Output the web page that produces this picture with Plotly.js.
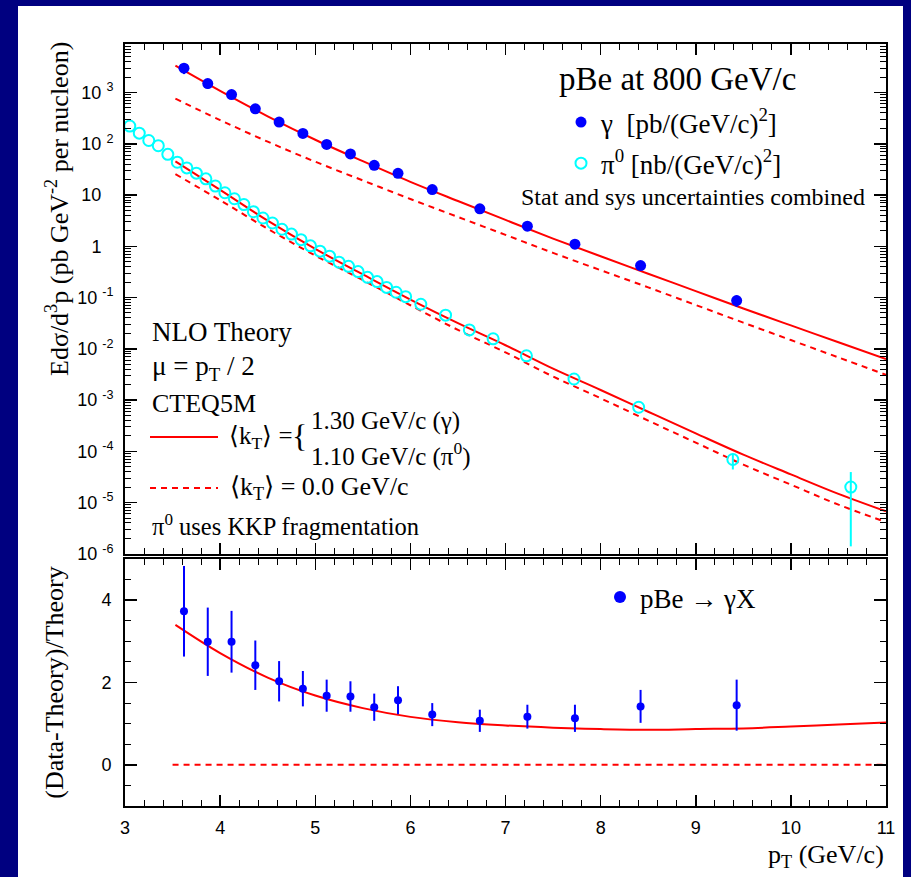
<!DOCTYPE html>
<html><head><meta charset="utf-8">
<script src="https://cdn.plot.ly/plotly-3.0.1.min.js"></script>
<style>html,body{margin:0;padding:0;background:#000080;} #chart{width:911px;height:877px;}</style>
</head><body><div id="chart"></div>
<script>
// ---------- data ----------
const gammaPt   = [3.62,3.87,4.12,4.37,4.62,4.87,5.12,5.37,5.62,5.87,6.23,6.73,7.23,7.73,8.42,9.43];
const gammaXsec = [2985,1496,914,482,266,159,97.3,63.3,38.0,26.5,12.8,5.39,2.47,1.10,0.42,0.0875];
const gammaErr  = [694,311,172,84.6,43.0,24.0,14.2,8.8,5.2,3.5,1.61,0.70,0.33,0.17,0.069,0.022];

const pi0Pt   = [3.05,3.15,3.25,3.35,3.45,3.55,3.65,3.75,3.85,3.95,4.05,4.15,4.25,4.35,4.45,4.55,4.65,4.75,4.85,4.95,
                 5.05,5.15,5.25,5.35,5.45,5.55,5.65,5.75,5.85,5.95,6.11,6.37,6.62,6.87,7.22,7.72,8.40,9.39,10.63];
const pi0Xsec = [222,161,116,91.8,62.2,43.7,33.8,26.7,20.7,15.0,11.1,8.47,6.53,4.73,3.57,2.85,2.15,1.73,1.35,1.02,
                 0.803,0.642,0.491,0.406,0.321,0.248,0.205,0.158,0.127,0.104,0.0741,0.0453,0.0234,0.0157,0.00731,0.00258,7.25e-4,6.93e-5,2.01e-5];
const pi0ErrPlus  = [0,0,0,0,0,0,0,0,0,0,0,0,0,0,0,0,0,0,0,0,0,0,0,0,0,0,0,0,0,0,0,0,0,0,0,0,0,2.04e-5,1.93e-5];
const pi0ErrMinus = [0,0,0,0,0,0,0,0,0,0,0,0,0,0,0,0,0,0,0,0,0,0,0,0,0,0,0,0,0,0,0,0,0,0,0,0,0,2.50e-5,1.87e-5];

const theoryPt   = [3.53,4.0,4.5,5.0,5.5,6.0,6.5,7.0,7.5,8.0,8.5,9.0,9.5,10.0,10.5,11.0];
const gammaNLOkT = [3350,1079,344,120,45.8,18.1,7.64,3.27,1.416,0.638,0.292,0.1337,0.0611,0.0286,0.01346,0.00631];
const gammaNLO   = [759,290,110,44.7,19.3,8.37,3.74,1.671,0.745,0.342,0.158,0.0716,0.0324,0.01483,0.00679,0.00311];
const pi0NLOkT   = [45.5,12.6,3.16,0.891,0.282,0.0912,0.0316,0.01175,0.00409,0.001574,5.92e-4,2.24e-4,8.61e-5,3.55e-5,1.48e-5,6.76e-6];
const pi0NLO     = [25.6,7.94,2.19,0.661,0.219,0.0708,0.0234,0.00851,0.00288,0.001084,3.98e-4,1.48e-4,5.50e-5,2.24e-5,9.12e-6,4.17e-6];

const ratioKT    = [3.40,2.715,2.12,1.683,1.378,1.165,1.035,0.957,0.903,0.868,0.85,0.87,0.885,0.93,0.98,1.03];
const ratioVal   = [3.73,2.99,2.99,2.42,2.03,1.85,1.68,1.66,1.40,1.57,1.22,1.07,1.17,1.13,1.42,1.45];
const ratioErr   = [1.1,0.83,0.75,0.6,0.49,0.43,0.39,0.37,0.33,0.34,0.28,0.27,0.29,0.33,0.40,0.62];
const ratioZeroPt = [3.5, 11];
const ratioZero   = [0, 0];

const topTickVals = [1e-6,1e-5,1e-4,1e-3,1e-2,1e-1,1,10,100,1000];
const topTickText = ['10\u00a0<sup>-6</sup>','10\u00a0<sup>-5</sup>','10\u00a0<sup>-4</sup>','10\u00a0<sup>-3</sup>',
                     '10\u00a0<sup>-2</sup>','10\u00a0<sup>-1</sup>','1\u00a0<sup>\u00a0\u00a0</sup>','10\u00a0<sup>\u00a0\u00a0</sup>',
                     '10\u00a0<sup>2</sup>','10\u00a0<sup>3</sup>'];
const xTickVals = [3,4,5,6,7,8,9,10,11];
const ratioTickVals = [0,2,4];

// ---------- layout helpers ----------
const L=125, R=886, T=44, B=806;
const px = v => (v-L)/(R-L);
const py = v => (B-v)/(B-T);
const RED='#ff0000', BLUE='#0000ff', CYAN='#00ffff';
const SERIF='Liberation Serif, Times New Roman, serif';
const SANS='Liberation Sans, Arial, sans-serif';
const DASH='6px,5px';

const minorLog=[];
for(let d=-6; d<=3; d++){ for(let m=2;m<=9;m++){ const v=m*Math.pow(10,d); if(v<9000) minorLog.push(v);} }

const traces = [
  {x:theoryPt, y:gammaNLOkT, xaxis:'x2', yaxis:'y', mode:'lines', line:{color:RED,width:2,shape:'spline'}, showlegend:false, hoverinfo:'skip'},
  {x:theoryPt, y:gammaNLO,   xaxis:'x2', yaxis:'y', mode:'lines', line:{color:RED,width:2,dash:DASH,shape:'spline'}, showlegend:false, hoverinfo:'skip'},
  {x:theoryPt, y:pi0NLOkT,   xaxis:'x2', yaxis:'y', mode:'lines', line:{color:RED,width:2,shape:'spline'}, showlegend:false, hoverinfo:'skip'},
  {x:theoryPt, y:pi0NLO,     xaxis:'x2', yaxis:'y', mode:'lines', line:{color:RED,width:2,dash:DASH,shape:'spline'}, showlegend:false, hoverinfo:'skip'},
  {x:gammaPt, y:gammaXsec, xaxis:'x2', yaxis:'y', mode:'markers', name:'\u03b3\u00a0 [pb/(GeV/c)<sup>2</sup>]',
   legend:'legend', legendgroup:'g',
   marker:{symbol:'circle', size:11, color:BLUE},
   error_y:{type:'data', array:gammaErr, color:BLUE, thickness:2, width:0}},
  {x:pi0Pt, y:pi0Xsec, xaxis:'x2', yaxis:'y', mode:'markers', name:'\u03c0<sup>0</sup> [nb/(GeV/c)<sup>2</sup>]',
   legend:'legend', legendgroup:'p',
   marker:{symbol:'circle-open', size:11, color:CYAN, line:{width:2, color:CYAN}},
   error_y:{type:'data', symmetric:false, array:pi0ErrPlus, arrayminus:pi0ErrMinus, color:CYAN, thickness:2, width:0}},
  {x:theoryPt, y:ratioKT, xaxis:'x', yaxis:'y2', mode:'lines', line:{color:RED,width:2,shape:'spline'}, showlegend:false, hoverinfo:'skip'},
  {x:ratioZeroPt, y:ratioZero, xaxis:'x', yaxis:'y2', mode:'lines', line:{color:RED,width:2,dash:DASH}, showlegend:false, hoverinfo:'skip'},
  {x:gammaPt, y:ratioVal, xaxis:'x', yaxis:'y2', mode:'markers', name:'pBe \u2192 \u03b3X', legend:'legend2',
   marker:{symbol:'circle', size:8, color:BLUE},
   error_y:{type:'data', array:ratioErr, color:BLUE, thickness:2, width:0}}
];

const xCommon = {range:[3,11], tickmode:'array', tickvals:xTickVals, ticks:'inside', ticklen:11, tickwidth:1.5, tickcolor:'#000',
  minor:{dtick:0.2, tick0:3, ticks:'inside', ticklen:6, tickwidth:1, tickcolor:'#000'},
  showline:true, linewidth:2, linecolor:'#000', mirror:'ticks', showgrid:false, zeroline:false,
  tickfont:{family:SANS, size:18, color:'#000'}, ticklabelstandoff:4};

const ann = (x, y, text, size, xanchor, extra) => Object.assign({xref:'paper', yref:'paper', x:px(x), y:py(y),
  xanchor:xanchor||'left', yanchor:'middle', showarrow:false, text:text, font:{family:SERIF, size:size, color:'#000'}}, extra||{});

const layout = {
  width:911, height:877, margin:{l:L, r:911-R, t:T, b:877-B},
  paper_bgcolor:'#000080', plot_bgcolor:'#ffffff',
  showlegend:true,
  xaxis: Object.assign({}, xCommon, {anchor:'y2', domain:[0,1]}),
  xaxis2: Object.assign({}, xCommon, {anchor:'y', domain:[0,1], matches:'x', showticklabels:false}),
  yaxis: {domain:[py(554),1], anchor:'x2', type:'log', range:[-6.003, 3.947], tickmode:'array', tickvals:topTickVals, ticktext:topTickText,
    ticks:'inside', ticklen:12, tickwidth:1.5, tickcolor:'#000',
    minor:{tickmode:'array', tickvals:minorLog, ticks:'inside', ticklen:6, tickwidth:1, tickcolor:'#000'},
    showline:true, linewidth:2, linecolor:'#000', mirror:'ticks', showgrid:false, zeroline:false,
    tickfont:{family:SANS, size:18, color:'#000'}, ticklabelstandoff:6},
  yaxis2: {domain:[0,py(559)], anchor:'x', range:[-1,5], tickmode:'array', tickvals:ratioTickVals,
    ticks:'inside', ticklen:12, tickwidth:1.5, tickcolor:'#000',
    minor:{tickmode:'linear', tick0:0, dtick:0.5, ticks:'inside', ticklen:6, tickwidth:1, tickcolor:'#000'},
    showline:true, linewidth:2, linecolor:'#000', mirror:'ticks', showgrid:false, zeroline:false,
    tickfont:{family:SANS, size:18, color:'#000'}, ticklabelstandoff:8,
    title:{text:'(Data-Theory)/Theory', font:{family:SERIF, size:26, color:'#000'}, standoff:30}},
  legend: {x:px(561), y:py(98), xanchor:'left', yanchor:'top', bgcolor:'rgba(0,0,0,0)', borderwidth:0,
    font:{family:SERIF, size:27, color:'#000'}, traceorder:'grouped', tracegroupgap:3},
  legend2: {x:px(600), y:py(573), xanchor:'left', yanchor:'top', bgcolor:'rgba(0,0,0,0)', borderwidth:0,
    itemsizing:'constant', font:{family:SERIF, size:27, color:'#000'}},
  shapes: [
    {type:'rect', xref:'paper', yref:'paper', x0:px(18), x1:px(903), y0:py(880), y1:py(6), fillcolor:'#ffffff', line:{width:0}, layer:'below'},
    {type:'line', xref:'paper', yref:'paper', x0:px(150), x1:px(218), y0:py(437), y1:py(437), line:{color:RED, width:2}},
    {type:'line', xref:'paper', yref:'paper', x0:px(150), x1:px(218), y0:py(488), y1:py(488), line:{color:RED, width:2, dash:DASH}}
  ],
  annotations: [
    ann(677, 79, 'pBe at 800 GeV/c', 33, 'center'),
    ann(867, 197, 'Stat and sys uncertainties combined', 24, 'right'),
    ann(150, 332, 'NLO Theory', 27),
    ann(150, 368, '\u03bc = p<sub>T</sub> / 2', 27),
    ann(150, 403, 'CTEQ5M', 26),
    ann(227, 437, '\u27e8k<sub>T</sub>\u27e9 =', 25),
    ann(299, 437, '{', 32, 'center', {yshift:1}),
    ann(309, 421, '1.30 GeV/c (\u03b3)', 25),
    ann(309, 454, '1.10 GeV/c (\u03c0<sup>0</sup>)', 25),
    ann(228, 488, '\u27e8k<sub>T</sub>\u27e9 = 0.0 GeV/c', 26),
    ann(150, 525, '\u03c0<sup>0</sup> uses KKP fragmentation', 24.5),
    ann(57, 40, 'Ed\u03c3/d<sup>3</sup>p (pb GeV<sup>-2</sup> per nucleon)', 26, 'center', {yanchor:'top', textangle:-90}),
    ann(886, 856, 'p<sub>T</sub> (GeV/c)', 26, 'right')
  ]
};

Plotly.newPlot('chart', traces, layout, {displayModeBar:false, staticPlot:true});
</script>
</body></html>
